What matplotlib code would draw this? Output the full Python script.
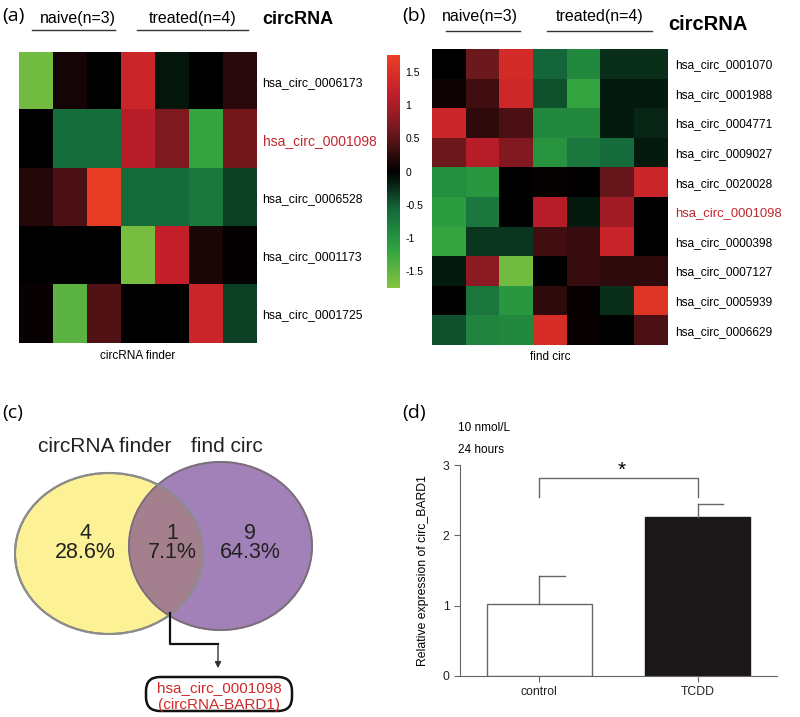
import numpy as np
import matplotlib
matplotlib.use("Agg")
import matplotlib.pyplot as plt
from matplotlib.colors import LinearSegmentedColormap
from matplotlib.patches import Ellipse, FancyBboxPatch

plt.rcParams['font.family'] = ['Liberation Sans', 'DejaVu Sans']

# ---- data ----
samples_naive = "naive(n=3)"
samples_treated = "treated(n=4)"

a_rows = ['hsa_circ_0006173', 'hsa_circ_0001098', 'hsa_circ_0006528',
          'hsa_circ_0001173', 'hsa_circ_0001725']
a_vals = [
    [-1.6, 0.12, 0.0, 1.3, -0.12, 0.0, 0.22],
    [0.0, -0.62, -0.62, 1.1, 0.7, -1.2, 0.65],
    [0.2, 0.4, 1.7, -0.6, -0.6, -0.72, -0.35],
    [0.0, 0.0, 0.0, -1.65, 1.2, 0.15, 0.02],
    [0.05, -1.45, 0.45, 0.0, 0.0, 1.3, -0.35],
]

b_rows = ['hsa_circ_0001070', 'hsa_circ_0001988', 'hsa_circ_0004771',
          'hsa_circ_0009027', 'hsa_circ_0020028', 'hsa_circ_0001098',
          'hsa_circ_0000398', 'hsa_circ_0007127', 'hsa_circ_0005939',
          'hsa_circ_0006629']
b_vals = [
    [0.0, 0.6, 1.4, -0.55, -0.9, -0.25, -0.25],
    [0.08, 0.35, 1.35, -0.45, -1.2, -0.15, -0.15],
    [1.3, 0.25, 0.4, -0.9, -0.9, -0.15, -0.2],
    [0.6, 1.1, 0.75, -1.0, -0.72, -0.6, -0.15],
    [-0.95, -1.05, 0.0, 0.03, 0.0, 0.55, 1.3],
    [-1.1, -0.72, 0.0, 1.1, -0.15, 0.95, 0.0],
    [-1.2, -0.3, -0.3, 0.35, 0.3, 1.25, 0.0],
    [-0.15, 0.8, -1.6, 0.0, 0.3, 0.25, 0.25],
    [0.0, -0.7, -1.05, 0.25, 0.05, -0.25, 1.55],
    [-0.45, -0.85, -0.9, 1.45, 0.05, 0.0, 0.4],
]
highlight = 'hsa_circ_0001098'
cbar_ticks = [-1.5, -1, -0.5, 0, 0.5, 1, 1.5]

venn_sets = ['circRNA finder', 'find circ']
venn_counts = [4, 1, 9]   # only finder, both, only find circ
venn_hit = ['hsa_circ_0001098', '(circRNA-BARD1)']

bar_groups = ['control', 'TCDD']
bar_means = [1.02, 2.26]
bar_err = [0.40, 0.19]

W, H = 800, 717
fig = plt.figure(figsize=(8, 7.17), dpi=100)


def rect(x0, y0, x1, y1):
    return [x0 / W, 1 - y1 / H, (x1 - x0) / W, (y1 - y0) / H]


def ftext(x, y, s, **kw):
    fig.text(x / W, 1 - y / H, s, **kw)


def fline(x0, x1, y):
    fig.add_artist(plt.Line2D([x0 / W, x1 / W], [1 - y / H, 1 - y / H],
                              color='#333333', lw=1, transform=fig.transFigure))


cmap = LinearSegmentedColormap.from_list('gkr', ['#86c440', '#2ea341', '#156a3c', '#000000',
                                                 '#6b181d', '#c01e2b', '#ec3f25'])
VMAX = 1.75


def heatmap(ax, vals, rows, fs, fs_hi, pad):
    im = ax.imshow(np.array(vals), cmap=cmap, vmin=-VMAX, vmax=VMAX,
                   aspect='auto', interpolation='nearest')
    ax.set_xticks([])
    ax.yaxis.tick_right()
    ax.set_yticks(range(len(rows)))
    ax.set_yticklabels(rows)
    ax.tick_params(axis='y', length=0, pad=pad, labelsize=fs)
    for lab in ax.get_yticklabels():
        if lab.get_text() == highlight:
            lab.set_color('#c1272d')
            lab.set_fontsize(fs_hi)
    for s in ax.spines.values():
        s.set_visible(False)
    return im


# (a)
ax_a = fig.add_axes(rect(19, 52, 257, 343))
im = heatmap(ax_a, a_vals, a_rows, 8.8, 10, 4)
ftext(78, 18, samples_naive, ha='center', va='center', fontsize=11.5)
ftext(193, 18, samples_treated, ha='center', va='center', fontsize=11.5)
fline(32, 115, 30)
fline(137, 248, 30)
ftext(262, 19, 'circRNA', ha='left', va='center', fontsize=13, fontweight='bold')
ftext(138, 356, 'circRNA finder', ha='center', va='center', fontsize=8.5)

# colorbar
cax = fig.add_axes(rect(387, 55, 400, 288))
cb = fig.colorbar(im, cax=cax, ticks=cbar_ticks)
cb.outline.set_visible(False)
cb.ax.set_yticklabels(['%g' % t for t in cbar_ticks])
cb.ax.tick_params(length=0, labelsize=7.5, pad=4)

# (b)
ax_b = fig.add_axes(rect(432, 49, 668, 345))
heatmap(ax_b, b_vals, b_rows, 8.6, 9.4, 5)
ftext(480, 17, samples_naive, ha='center', va='center', fontsize=11.5)
ftext(600, 17, samples_treated, ha='center', va='center', fontsize=11.5)
fline(446, 520, 31)
fline(547, 652, 31)
ftext(668, 25, 'circRNA', ha='left', va='center', fontsize=14.5, fontweight='bold')
ftext(550, 357, 'find circ', ha='center', va='center', fontsize=8.5)

# panel letters
for lx, ly, s in [(2, 16, '(a)'), (402, 16, '(b)'), (2, 413, '(c)'), (402, 413, '(d)')]:
    ftext(lx, ly, s, ha='left', va='center', fontsize=14, family=['Open Sans', 'DejaVu Sans'])

# (c) venn, axes in pixel units
ax_c = fig.add_axes(rect(0, 380, 400, 717))
ax_c.set_xlim(0, 400)
ax_c.set_ylim(717, 380)
ax_c.axis('off')
yellow = Ellipse((109, 553.5), 188, 161, facecolor='#fdf195', edgecolor='#8c8c8c', lw=1.5)
purple = Ellipse((220.5, 546), 183, 168, facecolor='#a280b8', edgecolor='#8c8c8c', lw=1.5)
ax_c.add_patch(yellow)
ax_c.add_patch(purple)
overlap = Ellipse((220.5, 546), 183, 168, facecolor='#a4808f', edgecolor='none')
ax_c.add_patch(overlap)
overlap.set_clip_path(yellow)
ax_c.add_patch(Ellipse((220.5, 546), 183, 168, facecolor='none', edgecolor='#7c6a7c', lw=1.2))
ax_c.add_patch(Ellipse((109, 553.5), 188, 161, facecolor='none', edgecolor='#8c8c8c', lw=1.5))

ax_c.text(105, 447, venn_sets[0], ha='center', va='center', fontsize=15, color='#222222')
ax_c.text(227, 447, venn_sets[1], ha='center', va='center', fontsize=15, color='#222222')
total = sum(venn_counts)
for cx, n in zip([85, 172, 250], venn_counts):
    ax_c.text(cx, 543, '%d\n%.1f%%' % (n, 100.0 * n / total), ha='center', va='center',
              fontsize=15.5, color='#222222', linespacing=0.85)

ax_c.plot([170, 170, 218], [613, 644, 644], color='#111111', lw=1.6)
ax_c.annotate('', xy=(218, 671), xytext=(218, 643),
              arrowprops=dict(arrowstyle='-|>', color='#333333', lw=1, mutation_scale=9))
box = FancyBboxPatch((146, 677), 146, 34, boxstyle='round,pad=0,rounding_size=14',
                     facecolor='white', edgecolor='#111111', lw=1.8)
ax_c.add_patch(box)
ax_c.text(219, 688, venn_hit[0], ha='center', va='center', fontsize=11, color='#d12a2a')
ax_c.text(219, 705, venn_hit[1], ha='center', va='center', fontsize=11, color='#d12a2a')

# (d) bar chart
ax_d = fig.add_axes(rect(460, 465, 777, 676))
x = np.arange(len(bar_groups))
ax_d.bar(x, bar_means, width=0.665, color=['white', '#1b1718'],
         edgecolor=['#666666', '#1b1718'], lw=1)
for xi, m, e in zip(x, bar_means, bar_err):
    ax_d.plot([xi, xi], [m, m + e], color='#666666', lw=1)
    ax_d.plot([xi, xi + 0.16], [m + e, m + e], color='#666666', lw=1)
ax_d.plot([0, 0, 1, 1], [2.55, 2.82, 2.82, 2.55], color='#666666', lw=1)
ax_d.text(0.52, 2.93, '*', ha='center', va='center', fontsize=15)
ax_d.set_xlim(-0.5, 1.5)
ax_d.set_ylim(0, 3)
ax_d.set_yticks([0, 1, 2, 3])
ax_d.set_xticks(x)
ax_d.set_xticklabels(bar_groups)
ax_d.tick_params(labelsize=8.8, length=4, color='#666666', labelcolor='#222222')
ax_d.spines['top'].set_visible(False)
ax_d.spines['right'].set_visible(False)
ax_d.spines['left'].set_color('#666666')
ax_d.spines['bottom'].set_color('#666666')
ax_d.set_ylabel('Relative expression of circ_BARD1', fontsize=8.8, labelpad=10)
ftext(458, 428, '10 nmol/L', ha='left', va='center', fontsize=8.5)
ftext(458, 450, '24 hours', ha='left', va='center', fontsize=8.5)

fig.savefig('out.png', dpi=100)
